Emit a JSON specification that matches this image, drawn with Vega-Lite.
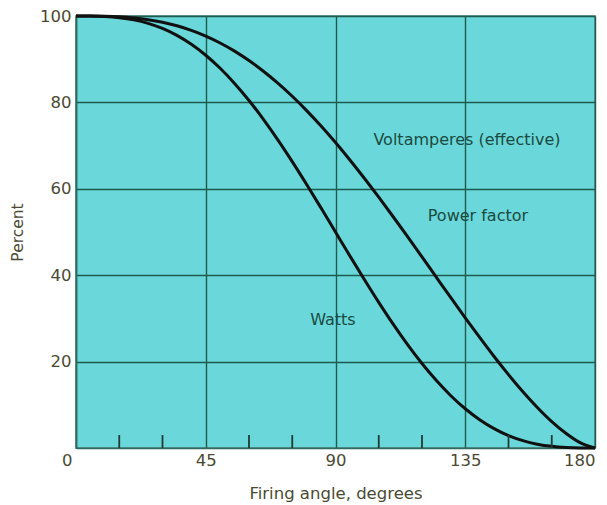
{
  "$schema": "https://vega.github.io/schema/vega-lite/v6.json",
  "width": 519,
  "height": 432,
  "autosize": {"type": "none"},
  "padding": {"left": 76, "top": 16, "right": 12, "bottom": 57},
  "background": "white",
  "config": {
    "view": {"fill": "#6ad8da", "stroke": "#4f7f76", "strokeWidth": 1.5},
    "font": "DejaVu Sans",
    "axis": {
      "labelFont": "DejaVu Sans",
      "titleFont": "DejaVu Sans",
      "labelColor": "#4a4a32",
      "titleColor": "#4a4a32",
      "labelFontSize": 16.5,
      "titleFontSize": 16,
      "titleFontWeight": "normal",
      "gridColor": "#1f5a4e",
      "gridWidth": 1.4,
      "gridOpacity": 1,
      "domainColor": "#2f6a5e",
      "domainWidth": 1.5,
      "ticks": false
    }
  },
  "datasets": {
    "curves": [
      {"angle": 0, "value": 100, "series": "Watts"},
      {"angle": 5, "value": 99.99, "series": "Watts"},
      {"angle": 10, "value": 99.89, "series": "Watts"},
      {"angle": 15, "value": 99.62, "series": "Watts"},
      {"angle": 20, "value": 99.12, "series": "Watts"},
      {"angle": 25, "value": 98.30, "series": "Watts"},
      {"angle": 30, "value": 97.12, "series": "Watts"},
      {"angle": 35, "value": 95.51, "series": "Watts"},
      {"angle": 40, "value": 93.45, "series": "Watts"},
      {"angle": 45, "value": 90.92, "series": "Watts"},
      {"angle": 50, "value": 87.90, "series": "Watts"},
      {"angle": 55, "value": 84.40, "series": "Watts"},
      {"angle": 60, "value": 80.45, "series": "Watts"},
      {"angle": 65, "value": 76.08, "series": "Watts"},
      {"angle": 70, "value": 71.34, "series": "Watts"},
      {"angle": 75, "value": 66.29, "series": "Watts"},
      {"angle": 80, "value": 61.00, "series": "Watts"},
      {"angle": 85, "value": 55.54, "series": "Watts"},
      {"angle": 90, "value": 50.00, "series": "Watts"},
      {"angle": 95, "value": 44.46, "series": "Watts"},
      {"angle": 100, "value": 39.00, "series": "Watts"},
      {"angle": 105, "value": 33.71, "series": "Watts"},
      {"angle": 110, "value": 28.66, "series": "Watts"},
      {"angle": 115, "value": 23.92, "series": "Watts"},
      {"angle": 120, "value": 19.55, "series": "Watts"},
      {"angle": 125, "value": 15.60, "series": "Watts"},
      {"angle": 130, "value": 12.10, "series": "Watts"},
      {"angle": 135, "value": 9.08, "series": "Watts"},
      {"angle": 140, "value": 6.55, "series": "Watts"},
      {"angle": 145, "value": 4.49, "series": "Watts"},
      {"angle": 150, "value": 2.88, "series": "Watts"},
      {"angle": 155, "value": 1.70, "series": "Watts"},
      {"angle": 160, "value": 0.88, "series": "Watts"},
      {"angle": 165, "value": 0.38, "series": "Watts"},
      {"angle": 170, "value": 0.11, "series": "Watts"},
      {"angle": 175, "value": 0.01, "series": "Watts"},
      {"angle": 180, "value": 0, "series": "Watts"},
      {"angle": 0, "value": 100, "series": "Power factor"},
      {"angle": 5, "value": 99.99, "series": "Power factor"},
      {"angle": 10, "value": 99.94, "series": "Power factor"},
      {"angle": 15, "value": 99.81, "series": "Power factor"},
      {"angle": 20, "value": 99.56, "series": "Power factor"},
      {"angle": 25, "value": 99.15, "series": "Power factor"},
      {"angle": 30, "value": 98.55, "series": "Power factor"},
      {"angle": 35, "value": 97.73, "series": "Power factor"},
      {"angle": 40, "value": 96.67, "series": "Power factor"},
      {"angle": 45, "value": 95.35, "series": "Power factor"},
      {"angle": 50, "value": 93.75, "series": "Power factor"},
      {"angle": 55, "value": 91.87, "series": "Power factor"},
      {"angle": 60, "value": 89.69, "series": "Power factor"},
      {"angle": 65, "value": 87.22, "series": "Power factor"},
      {"angle": 70, "value": 84.46, "series": "Power factor"},
      {"angle": 75, "value": 81.42, "series": "Power factor"},
      {"angle": 80, "value": 78.10, "series": "Power factor"},
      {"angle": 85, "value": 74.53, "series": "Power factor"},
      {"angle": 90, "value": 70.71, "series": "Power factor"},
      {"angle": 95, "value": 66.68, "series": "Power factor"},
      {"angle": 100, "value": 62.45, "series": "Power factor"},
      {"angle": 105, "value": 58.06, "series": "Power factor"},
      {"angle": 110, "value": 53.53, "series": "Power factor"},
      {"angle": 115, "value": 48.91, "series": "Power factor"},
      {"angle": 120, "value": 44.22, "series": "Power factor"},
      {"angle": 125, "value": 39.50, "series": "Power factor"},
      {"angle": 130, "value": 34.79, "series": "Power factor"},
      {"angle": 135, "value": 30.14, "series": "Power factor"},
      {"angle": 140, "value": 25.59, "series": "Power factor"},
      {"angle": 145, "value": 21.18, "series": "Power factor"},
      {"angle": 150, "value": 16.98, "series": "Power factor"},
      {"angle": 155, "value": 13.03, "series": "Power factor"},
      {"angle": 160, "value": 9.39, "series": "Power factor"},
      {"angle": 165, "value": 6.12, "series": "Power factor"},
      {"angle": 170, "value": 3.36, "series": "Power factor"},
      {"angle": 175, "value": 1.18, "series": "Power factor"},
      {"angle": 180, "value": 0, "series": "Power factor"}
    ],
    "minorTicks": [
      {"angle": 15}, {"angle": 30}, {"angle": 60}, {"angle": 75},
      {"angle": 105}, {"angle": 120}, {"angle": 150}, {"angle": 165}
    ],
    "labels": [
      {"angle": 135.6, "value": 71.3, "text": "Voltamperes  (effective)"},
      {"angle": 139.4, "value": 53.7, "text": "Power  factor"},
      {"angle": 89.1, "value": 29.6, "text": "Watts"}
    ]
  },
  "layer": [
    {
      "data": {"name": "curves"},
      "mark": {"type": "line", "color": "#111111", "strokeWidth": 3, "interpolate": "monotone"},
      "encoding": {
        "x": {
          "field": "angle", "type": "quantitative",
          "scale": {"domain": [0, 180], "nice": false},
          "axis": {
            "values": [0, 45, 90, 135, 180],
            "title": "Firing angle,  degrees",
            "titleFontSize": 16.5,
            "titlePadding": 17,
            "labelPadding": 4,
            "labelFlush": false,
            "labelAlign": {"condition": {"test": "datum.value == 0 || datum.value == 180", "value": "right"}, "value": "center"},
            "labelOffset": {"condition": {"test": "datum.value == 0", "value": -4}, "value": 0}
          }
        },
        "y": {
          "field": "value", "type": "quantitative",
          "scale": {"domain": [0, 100], "nice": false},
          "axis": {
            "values": [20, 40, 60, 80, 100],
            "title": "Percent",
            "titleFontSize": 15.5,
            "titlePadding": 14,
            "labelPadding": 5
          }
        },
        "detail": {"field": "series"}
      }
    },
    {
      "data": {"name": "minorTicks"},
      "mark": {"type": "rule", "color": "#1f3a34", "strokeWidth": 1.8},
      "encoding": {
        "x": {"field": "angle", "type": "quantitative"},
        "y": {"datum": 0, "type": "quantitative"},
        "y2": {"datum": 3}
      }
    },
    {
      "data": {"name": "labels"},
      "mark": {"type": "text", "color": "#1b4a40", "fontSize": 16, "font": "DejaVu Sans", "align": "center", "baseline": "middle"},
      "encoding": {
        "x": {"field": "angle", "type": "quantitative"},
        "y": {"field": "value", "type": "quantitative"},
        "text": {"field": "text"}
      }
    }
  ]
}
